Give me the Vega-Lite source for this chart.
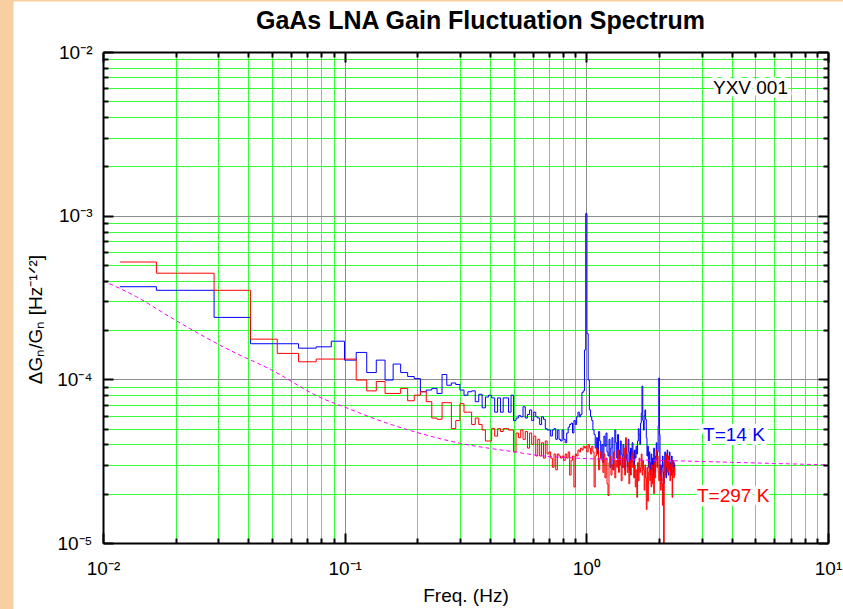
{
  "$schema": "https://vega.github.io/schema/vega-lite/v6.json",
  "width": 725,
  "height": 491,
  "autosize": {"type": "none"},
  "padding": {"left": 103, "top": 52, "right": 15, "bottom": 66},
  "background": "white",
  "title": {
    "text": "GaAs LNA Gain Fluctuation Spectrum",
    "font": "Liberation Sans",
    "fontSize": 25,
    "fontWeight": "bold",
    "color": "black",
    "anchor": "middle",
    "frame": "group",
    "dx": 15,
    "offset": -54,
    "baseline": "alphabetic"
  },
  "config": {
    "view": {"stroke": null},
    "font": "Liberation Sans",
    "axis": {
      "labelFont": "Liberation Sans",
      "labelFontSize": 19,
      "labelColor": "black",
      "titleFont": "Liberation Sans",
      "titleFontSize": 19,
      "titleFontWeight": "normal",
      "titleColor": "black",
      "tickColor": "black",
      "tickWidth": 2,
      "domainColor": "black",
      "domainWidth": 2,
      "labelFlush": false,
      "labelOverlap": false,
      "labelBound": false,
      "grid": false
    }
  },
  "datasets": {
    "spectra": [
      {"f": 0.01176, "t14": 3.68e-4, "t297": 5.21e-4},
      {"f": 0.02353, "t14": 3.50e-4, "t297": 4.45e-4},
      {"f": 0.03529, "t14": 2.39e-4, "t297": 3.50e-4},
      {"f": 0.04706, "t14": 1.65e-4, "t297": 1.76e-4},
      {"f": 0.05882, "t14": 1.65e-4, "t297": 1.44e-4},
      {"f": 0.07059, "t14": 1.55e-4, "t297": 1.28e-4},
      {"f": 0.08235, "t14": 1.58e-4, "t297": 1.33e-4},
      {"f": 0.09412, "t14": 1.71e-4, "t297": 1.33e-4},
      {"f": 0.10588, "t14": 1.31e-4, "t297": 1.33e-4},
      {"f": 0.11765, "t14": 1.46e-4, "t297": 9.9e-5},
      {"f": 0.12941, "t14": 1.10e-4, "t297": 8.5e-5},
      {"f": 0.14118, "t14": 1.31e-4, "t297": 9.7e-5},
      {"f": 0.15294, "t14": 9.9e-5, "t297": 8.2e-5},
      {"f": 0.16471, "t14": 1.24e-4, "t297": 8.2e-5},
      {"f": 0.17647, "t14": 1.10e-4, "t297": 8.8e-5},
      {"f": 0.18824, "t14": 1.04e-4, "t297": 7.4e-5},
      {"f": 0.2, "t14": 1.01e-4, "t297": 8.0e-5},
      {"f": 0.21176, "t14": 8.4e-5, "t297": 8.4e-5},
      {"f": 0.22353, "t14": 8.6e-5, "t297": 7.3e-5},
      {"f": 0.23529, "t14": 8.8e-5, "t297": 5.8e-5},
      {"f": 0.24706, "t14": 8.2e-5, "t297": 5.7e-5},
      {"f": 0.25882, "t14": 1.07e-4, "t297": 7.2e-5},
      {"f": 0.27059, "t14": 9.2e-5, "t297": 7.2e-5},
      {"f": 0.28235, "t14": 9.5e-5, "t297": 5.0e-5},
      {"f": 0.29412, "t14": 9.3e-5, "t297": 5.6e-5},
      {"f": 0.30588, "t14": 8.6e-5, "t297": 7.1e-5},
      {"f": 0.31765, "t14": 8.0e-5, "t297": 6.3e-5},
      {"f": 0.32941, "t14": 8.4e-5, "t297": 6.3e-5},
      {"f": 0.34118, "t14": 8.5e-5, "t297": 5.3e-5},
      {"f": 0.35294, "t14": 7.3e-5, "t297": 5.8e-5},
      {"f": 0.36471, "t14": 8.1e-5, "t297": 5.3e-5},
      {"f": 0.37647, "t14": 6.7e-5, "t297": 4.9e-5},
      {"f": 0.38824, "t14": 7.8e-5, "t297": 4.2e-5},
      {"f": 0.4, "t14": 8.0e-5, "t297": 4.2e-5},
      {"f": 0.41176, "t14": 7.7e-5, "t297": 5.0e-5},
      {"f": 0.42353, "t14": 6.3e-5, "t297": 4.5e-5},
      {"f": 0.43529, "t14": 7.7e-5, "t297": 5.0e-5},
      {"f": 0.44706, "t14": 6.3e-5, "t297": 4.8e-5},
      {"f": 0.45882, "t14": 7.7e-5, "t297": 5.0e-5},
      {"f": 0.47059, "t14": 7.7e-5, "t297": 5.0e-5},
      {"f": 0.48235, "t14": 6.3e-5, "t297": 4.9e-5},
      {"f": 0.49412, "t14": 8.0e-5, "t297": 4.9e-5},
      {"f": 0.50588, "t14": 5.6e-5, "t297": 3.6e-5},
      {"f": 0.51765, "t14": 5.8e-5, "t297": 4.7e-5},
      {"f": 0.52941, "t14": 6.0e-5, "t297": 4.4e-5},
      {"f": 0.54118, "t14": 5.9e-5, "t297": 4.9e-5},
      {"f": 0.55294, "t14": 6.8e-5, "t297": 4.3e-5},
      {"f": 0.56471, "t14": 5.8e-5, "t297": 4.8e-5},
      {"f": 0.57647, "t14": 6.1e-5, "t297": 3.8e-5},
      {"f": 0.58824, "t14": 6.5e-5, "t297": 4.7e-5},
      {"f": 0.6, "t14": 5.6e-5, "t297": 4.0e-5},
      {"f": 0.61176, "t14": 6.3e-5, "t297": 4.5e-5},
      {"f": 0.62353, "t14": 5.9e-5, "t297": 3.4e-5},
      {"f": 0.63529, "t14": 5.8e-5, "t297": 4.3e-5},
      {"f": 0.64706, "t14": 5.3e-5, "t297": 3.4e-5},
      {"f": 0.65882, "t14": 5.9e-5, "t297": 4.1e-5},
      {"f": 0.67059, "t14": 5.7e-5, "t297": 3.3e-5},
      {"f": 0.68235, "t14": 5.0e-5, "t297": 4.2e-5},
      {"f": 0.69412, "t14": 4.9e-5, "t297": 3.5e-5},
      {"f": 0.70588, "t14": 4.9e-5, "t297": 3.6e-5},
      {"f": 0.71765, "t14": 4.5e-5, "t297": 3.3e-5},
      {"f": 0.72941, "t14": 4.9e-5, "t297": 2.9e-5},
      {"f": 0.74118, "t14": 5.0e-5, "t297": 3.5e-5},
      {"f": 0.75294, "t14": 4.3e-5, "t297": 2.8e-5},
      {"f": 0.76471, "t14": 4.9e-5, "t297": 3.5e-5},
      {"f": 0.77647, "t14": 4.3e-5, "t297": 3.4e-5},
      {"f": 0.78824, "t14": 4.2e-5, "t297": 3.3e-5},
      {"f": 0.8, "t14": 4.9e-5, "t297": 3.4e-5},
      {"f": 0.81176, "t14": 4.3e-5, "t297": 3.2e-5},
      {"f": 0.82353, "t14": 4.1e-5, "t297": 3.5e-5},
      {"f": 0.83529, "t14": 4.7e-5, "t297": 3.3e-5},
      {"f": 0.84706, "t14": 5.1e-5, "t297": 3.6e-5},
      {"f": 0.85882, "t14": 5.3e-5, "t297": 2.6e-5},
      {"f": 0.87059, "t14": 5.4e-5, "t297": 3.2e-5},
      {"f": 0.88235, "t14": 4.7e-5, "t297": 3.4e-5},
      {"f": 0.89412, "t14": 5.6e-5, "t297": 2.2e-5},
      {"f": 0.90588, "t14": 5.3e-5, "t297": 3.5e-5},
      {"f": 0.91765, "t14": 5.9e-5, "t297": 3.4e-5},
      {"f": 0.92941, "t14": 6.3e-5, "t297": 3.7e-5},
      {"f": 0.94118, "t14": 5.9e-5, "t297": 3.6e-5},
      {"f": 0.95294, "t14": 6.1e-5, "t297": 3.8e-5},
      {"f": 0.96471, "t14": 8.3e-5, "t297": 3.7e-5},
      {"f": 0.97647, "t14": 8.5e-5, "t297": 3.9e-5},
      {"f": 0.98824, "t14": 1.51e-4, "t297": 3.8e-5},
      {"f": 1.0, "t14": 1.03e-3, "t297": 3.9e-5},
      {"f": 1.01176, "t14": 1.9e-4, "t297": 3.6e-5},
      {"f": 1.02353, "t14": 9.9e-5, "t297": 4.0e-5},
      {"f": 1.03529, "t14": 6.5e-5, "t297": 3.8e-5},
      {"f": 1.04706, "t14": 5.9e-5, "t297": 3.5e-5},
      {"f": 1.05882, "t14": 5.6e-5, "t297": 3.9e-5},
      {"f": 1.07059, "t14": 4.9e-5, "t297": 3.6e-5},
      {"f": 1.08235, "t14": 4.6e-5, "t297": 2.2e-5},
      {"f": 1.09412, "t14": 3.8e-5, "t297": 3.4e-5},
      {"f": 1.10588, "t14": 4.4e-5, "t297": 3.8e-5},
      {"f": 1.11765, "t14": 3.5e-5, "t297": 3.7e-5},
      {"f": 1.12941, "t14": 4.8e-5, "t297": 2.8e-5},
      {"f": 1.14118, "t14": 4.2e-5, "t297": 3.3e-5},
      {"f": 1.15294, "t14": 3.3e-5, "t297": 3.6e-5},
      {"f": 1.16471, "t14": 4.0e-5, "t297": 3.2e-5},
      {"f": 1.17647, "t14": 3.1e-5, "t297": 2.7e-5},
      {"f": 1.18824, "t14": 4.5e-5, "t297": 3.5e-5},
      {"f": 1.2, "t14": 3.9e-5, "t297": 2.5e-5},
      {"f": 1.21176, "t14": 4.7e-5, "t297": 3.3e-5},
      {"f": 1.22353, "t14": 3.6e-5, "t297": 2.3e-5},
      {"f": 1.23529, "t14": 3.4e-5, "t297": 1.95e-5},
      {"f": 1.24706, "t14": 4.3e-5, "t297": 3.1e-5},
      {"f": 1.25882, "t14": 2.9e-5, "t297": 3.4e-5},
      {"f": 1.27059, "t14": 3.8e-5, "t297": 2.6e-5},
      {"f": 1.28235, "t14": 4.4e-5, "t297": 3.0e-5},
      {"f": 1.29412, "t14": 2.8e-5, "t297": 2.8e-5},
      {"f": 1.30588, "t14": 3.6e-5, "t297": 3.6e-5},
      {"f": 1.31765, "t14": 4.9e-5, "t297": 2.5e-5},
      {"f": 1.32941, "t14": 4.1e-5, "t297": 3.2e-5},
      {"f": 1.34118, "t14": 3.3e-5, "t297": 2.9e-5},
      {"f": 1.35294, "t14": 4.6e-5, "t297": 3.7e-5},
      {"f": 1.36471, "t14": 3.7e-5, "t297": 2.7e-5},
      {"f": 1.37647, "t14": 3.0e-5, "t297": 3.4e-5},
      {"f": 1.38824, "t14": 4.2e-5, "t297": 3.0e-5},
      {"f": 1.4, "t14": 3.5e-5, "t297": 2.4e-5},
      {"f": 1.41176, "t14": 2.9e-5, "t297": 3.3e-5},
      {"f": 1.42353, "t14": 4.0e-5, "t297": 2.9e-5},
      {"f": 1.43529, "t14": 3.4e-5, "t297": 3.8e-5},
      {"f": 1.44706, "t14": 2.8e-5, "t297": 2.6e-5},
      {"f": 1.45882, "t14": 3.9e-5, "t297": 4.4e-5},
      {"f": 1.47059, "t14": 3.2e-5, "t297": 3.5e-5},
      {"f": 1.48235, "t14": 2.9e-5, "t297": 2.7e-5},
      {"f": 1.49412, "t14": 4.3e-5, "t297": 3.1e-5},
      {"f": 1.50588, "t14": 3.6e-5, "t297": 2.3e-5},
      {"f": 1.51765, "t14": 2.7e-5, "t297": 3.2e-5},
      {"f": 1.52941, "t14": 3.8e-5, "t297": 2.6e-5},
      {"f": 1.54118, "t14": 3.1e-5, "t297": 3.4e-5},
      {"f": 1.55294, "t14": 4.1e-5, "t297": 2.9e-5},
      {"f": 1.56471, "t14": 3.4e-5, "t297": 3.6e-5},
      {"f": 1.57647, "t14": 2.9e-5, "t297": 2.5e-5},
      {"f": 1.58824, "t14": 3.7e-5, "t297": 3.0e-5},
      {"f": 1.6, "t14": 3.3e-5, "t297": 2.2e-5},
      {"f": 1.61176, "t14": 3.9e-5, "t297": 2.8e-5},
      {"f": 1.62353, "t14": 3.5e-5, "t297": 1.9e-5},
      {"f": 1.63529, "t14": 4.2e-5, "t297": 3.1e-5},
      {"f": 1.64706, "t14": 5.0e-5, "t297": 2.4e-5},
      {"f": 1.65882, "t14": 4.6e-5, "t297": 3.3e-5},
      {"f": 1.67059, "t14": 4.0e-5, "t297": 2.7e-5},
      {"f": 1.68235, "t14": 5.4e-5, "t297": 2.9e-5},
      {"f": 1.69412, "t14": 6.2e-5, "t297": 3.5e-5},
      {"f": 1.70588, "t14": 9.1e-5, "t297": 2.6e-5},
      {"f": 1.71765, "t14": 5.6e-5, "t297": 3.2e-5},
      {"f": 1.72941, "t14": 4.9e-5, "t297": 2.8e-5},
      {"f": 1.74118, "t14": 6.0e-5, "t297": 2.1e-5},
      {"f": 1.75294, "t14": 6.5e-5, "t297": 3.0e-5},
      {"f": 1.76471, "t14": 5.7e-5, "t297": 2.5e-5},
      {"f": 1.77647, "t14": 4.4e-5, "t297": 1.6e-5},
      {"f": 1.78824, "t14": 3.4e-5, "t297": 2.9e-5},
      {"f": 1.8, "t14": 3.9e-5, "t297": 1.8e-5},
      {"f": 1.81176, "t14": 2.9e-5, "t297": 2.7e-5},
      {"f": 1.82353, "t14": 3.6e-5, "t297": 3.1e-5},
      {"f": 1.83529, "t14": 3.1e-5, "t297": 2.4e-5},
      {"f": 1.84706, "t14": 2.6e-5, "t297": 2.8e-5},
      {"f": 1.85882, "t14": 3.5e-5, "t297": 2.2e-5},
      {"f": 1.87059, "t14": 2.8e-5, "t297": 3.0e-5},
      {"f": 1.88235, "t14": 3.3e-5, "t297": 2.3e-5},
      {"f": 1.89412, "t14": 2.5e-5, "t297": 2.6e-5},
      {"f": 1.90588, "t14": 3.8e-5, "t297": 2.0e-5},
      {"f": 1.91765, "t14": 3.0e-5, "t297": 3.1e-5},
      {"f": 1.92941, "t14": 2.7e-5, "t297": 2.5e-5},
      {"f": 1.94118, "t14": 3.4e-5, "t297": 3.3e-5},
      {"f": 1.95294, "t14": 4.1e-5, "t297": 3.7e-5},
      {"f": 1.96471, "t14": 3.2e-5, "t297": 2.9e-5},
      {"f": 1.97647, "t14": 3.6e-5, "t297": 3.4e-5},
      {"f": 1.98824, "t14": 5.2e-5, "t297": 2.7e-5},
      {"f": 2.0, "t14": 1.02e-4, "t297": 2.4e-5},
      {"f": 2.01176, "t14": 4.6e-5, "t297": 3.0e-5},
      {"f": 2.02353, "t14": 2.6e-5, "t297": 2.6e-5},
      {"f": 2.03529, "t14": 3.0e-5, "t297": 2.1e-5},
      {"f": 2.04706, "t14": 2.4e-5, "t297": 2.8e-5},
      {"f": 2.05882, "t14": 2.9e-5, "t297": 2.3e-5},
      {"f": 2.07059, "t14": 3.4e-5, "t297": 1.7e-5},
      {"f": 2.08235, "t14": 2.7e-5, "t297": 2.5e-5},
      {"f": 2.09412, "t14": 2.3e-5, "t297": 6.0e-6},
      {"f": 2.10588, "t14": 3.1e-5, "t297": 2.7e-5},
      {"f": 2.11765, "t14": 3.6e-5, "t297": 3.2e-5},
      {"f": 2.12941, "t14": 2.8e-5, "t297": 2.6e-5},
      {"f": 2.14118, "t14": 2.5e-5, "t297": 3.5e-5},
      {"f": 2.15294, "t14": 3.3e-5, "t297": 2.9e-5},
      {"f": 2.16471, "t14": 3.7e-5, "t297": 3.3e-5},
      {"f": 2.17647, "t14": 2.9e-5, "t297": 2.7e-5},
      {"f": 2.18824, "t14": 2.6e-5, "t297": 3.4e-5},
      {"f": 2.2, "t14": 3.2e-5, "t297": 2.8e-5},
      {"f": 2.21176, "t14": 3.6e-5, "t297": 3.1e-5},
      {"f": 2.22353, "t14": 2.8e-5, "t297": 2.4e-5},
      {"f": 2.23529, "t14": 3.1e-5, "t297": 3.0e-5},
      {"f": 2.24706, "t14": 2.6e-5, "t297": 2.6e-5},
      {"f": 2.25882, "t14": 3.4e-5, "t297": 3.2e-5},
      {"f": 2.27059, "t14": 2.9e-5, "t297": 1.9e-5},
      {"f": 2.28235, "t14": 3.2e-5, "t297": 2.8e-5},
      {"f": 2.29412, "t14": 2.7e-5, "t297": 3.1e-5},
      {"f": 2.30588, "t14": 3.1e-5, "t297": 2.5e-5},
      {"f": 2.31765, "t14": 2.9e-5, "t297": 2.9e-5},
      {"f": 2.32941, "t14": 3.0e-5, "t297": 2.6e-5}
    ],
    "trend": [
      {"f": 0.01, "fit": 4.0e-4},
      {"f": 0.01373, "fit": 3.2e-4},
      {"f": 0.01888, "fit": 2.41e-4},
      {"f": 0.02594, "fit": 1.84e-4},
      {"f": 0.0356, "fit": 1.44e-4},
      {"f": 0.0482, "fit": 1.17e-4},
      {"f": 0.0816, "fit": 7.6e-5},
      {"f": 0.1003, "fit": 6.75e-5},
      {"f": 0.14, "fit": 5.59e-5},
      {"f": 0.205, "fit": 4.68e-5},
      {"f": 0.3, "fit": 4.07e-5},
      {"f": 0.499, "fit": 3.61e-5},
      {"f": 0.643, "fit": 3.42e-5},
      {"f": 0.883, "fit": 3.31e-5},
      {"f": 2.33, "fit": 3.18e-5},
      {"f": 10, "fit": 3.0e-5}
    ],
    "notes": [
      {"f": 3.343, "g": 0.00603, "label": "YXV 001"},
      {"f": 3.04, "g": 0.0000457, "label": "T=14 K"},
      {"f": 2.87, "g": 0.0000195, "label": "T=297 K"}
    ]
  },
  "layer": [
    {
      "description": "peach margin strip down the left edge of the page",
      "data": {"values": [{}]},
      "mark": {"type": "rect", "color": "#F8CFA1", "clip": false},
      "encoding": {
        "x": {"datum": 0.003, "type": "quantitative", "scale": {"type": "log", "domain": [0.01, 10], "nice": false}, "axis": null},
        "x2": {"datum": 0.004263},
        "y": {"datum": 0.020785, "type": "quantitative", "scale": {"type": "log", "domain": [0.00001, 0.01], "nice": false}, "axis": null},
        "y2": {"datum": 0.000003}
      }
    },
    {
      "description": "thin peach band along the top edge",
      "data": {"values": [{}]},
      "mark": {"type": "rect", "color": "#F8CFA1", "clip": false},
      "encoding": {
        "x": {"datum": 0.003, "type": "quantitative", "scale": {"type": "log", "domain": [0.01, 10], "nice": false}, "axis": null},
        "x2": {"datum": 20},
        "y": {"datum": 0.020785, "type": "quantitative", "scale": {"type": "log", "domain": [0.00001, 0.01], "nice": false}, "axis": null},
        "y2": {"datum": 0.02035}
      }
    },
    {
      "description": "T=14 K spectrum, with the labelled bottom and left axes",
      "data": {"name": "spectra"},
      "mark": {"type": "line", "interpolate": "step", "color": "#0000FF", "strokeWidth": 1, "clip": true},
      "encoding": {
        "x": {
          "field": "f", "type": "quantitative",
          "scale": {"type": "log", "domain": [0.01, 10], "nice": false},
          "axis": {
            "orient": "bottom",
            "values": [0.01, 0.1, 1, 10],
            "tickSize": -10,
            "labelExpr": "datum.value == 0.01 ? '10⁻²' : datum.value == 0.1 ? '10⁻¹' : datum.value == 1 ? '10⁰' : '10¹'",
            "labelPadding": 41,
            "labelBaseline": "alphabetic",
            "labelAlign": "center",
            "title": "Freq. (Hz)",
            "titleX": 362.5,
            "titleY": 58,
            "titleBaseline": "alphabetic",
            "titleAlign": "center",
            "zindex": 1
          }
        },
        "y": {
          "field": "t14", "type": "quantitative",
          "scale": {"type": "log", "domain": [0.00001, 0.01], "nice": false},
          "axis": {
            "orient": "left",
            "values": [0.00001, 0.0001, 0.001, 0.01],
            "tickSize": -10,
            "labelExpr": "datum.value == 0.01 ? '10⁻²' : datum.value == 0.001 ? '10⁻³' : datum.value == 0.0001 ? '10⁻⁴' : '10⁻⁵'",
            "labelPadding": 21,
            "labelAlign": "right",
            "labelBaseline": "middle",
            "title": "ΔGₙ/Gₙ [Hz⁻¹ᐟ²]",
            "titleX": -61.5,
            "titleY": 267,
            "titleAngle": -90,
            "titleBaseline": "alphabetic",
            "titleAlign": "center",
            "zindex": 1
          }
        }
      }
    },
    {
      "description": "T=297 K spectrum, with the top and right frame axes",
      "data": {"name": "spectra"},
      "mark": {"type": "line", "interpolate": "step", "color": "#FF0000", "strokeWidth": 1, "clip": true},
      "encoding": {
        "x": {
          "field": "f", "type": "quantitative",
          "scale": {"type": "log", "domain": [0.01, 10], "nice": false},
          "axis": {"orient": "top", "values": [0.01, 0.1, 1, 10], "tickSize": -10, "labels": false, "title": null, "zindex": 1}
        },
        "y": {
          "field": "t297", "type": "quantitative",
          "scale": {"type": "log", "domain": [0.00001, 0.01], "nice": false},
          "axis": {"orient": "right", "values": [0.00001, 0.0001, 0.001, 0.01], "tickSize": -10, "labels": false, "title": null, "zindex": 1}
        }
      }
    },
    {
      "description": "dashed reference curve; carries the green/grey grid",
      "data": {"name": "trend"},
      "mark": {"type": "line", "interpolate": "monotone", "color": "#FF00FF", "strokeWidth": 1, "strokeDash": [4, 3], "clip": true},
      "encoding": {
        "x": {
          "field": "f", "type": "quantitative",
          "scale": {"type": "log", "domain": [0.01, 10], "nice": false},
          "axis": {
            "orient": "bottom",
            "values": [0.01, 0.02, 0.03, 0.04, 0.05, 0.06, 0.07, 0.08, 0.09, 0.1, 0.2, 0.3, 0.4, 0.5, 0.6, 0.7, 0.8, 0.9, 1, 2, 3, 4, 5, 6, 7, 8, 9, 10],
            "grid": true,
            "gridColor": {"condition": {"test": "indexof([0.01, 0.1, 1, 10], datum.value) >= 0", "value": "#8c8c8c"}, "value": "#33ff33"},
            "gridWidth": 1,
            "ticks": false, "labels": false, "domain": false, "title": null, "zindex": 0
          }
        },
        "y": {
          "field": "fit", "type": "quantitative",
          "scale": {"type": "log", "domain": [0.00001, 0.01], "nice": false},
          "axis": {
            "orient": "left",
            "values": [0.00001, 0.00002, 0.00003, 0.00004, 0.00005, 0.00006, 0.00007, 0.00008, 0.00009, 0.0001, 0.0002, 0.0003, 0.0004, 0.0005, 0.0006, 0.0007, 0.0008, 0.0009, 0.001, 0.002, 0.003, 0.004, 0.005, 0.006, 0.007, 0.008, 0.009, 0.01],
            "grid": true,
            "gridColor": {"condition": {"test": "indexof([0.00001, 0.0001, 0.001, 0.01], datum.value) >= 0", "value": "#8c8c8c"}, "value": "#33ff33"},
            "gridWidth": 1,
            "ticks": false, "labels": false, "domain": false, "title": null, "zindex": 0
          }
        }
      }
    },
    {
      "description": "white halo behind the annotations; carries the bottom/left minor ticks",
      "data": {"name": "notes"},
      "mark": {"type": "text", "align": "left", "baseline": "middle", "font": "Liberation Sans", "fontSize": 19, "fill": "white", "stroke": "white", "strokeWidth": 8, "strokeJoin": "round"},
      "encoding": {
        "x": {
          "field": "f", "type": "quantitative",
          "scale": {"type": "log", "domain": [0.01, 10], "nice": false},
          "axis": {"orient": "bottom", "values": [0.02, 0.03, 0.04, 0.05, 0.06, 0.07, 0.08, 0.09, 0.2, 0.3, 0.4, 0.5, 0.6, 0.7, 0.8, 0.9, 2, 3, 4, 5, 6, 7, 8, 9], "tickSize": -5, "labels": false, "domain": false, "title": null, "zindex": 1}
        },
        "y": {
          "field": "g", "type": "quantitative",
          "scale": {"type": "log", "domain": [0.00001, 0.01], "nice": false},
          "axis": {"orient": "left", "values": [0.00002, 0.00003, 0.00004, 0.00005, 0.00006, 0.00007, 0.00008, 0.00009, 0.0002, 0.0003, 0.0004, 0.0005, 0.0006, 0.0007, 0.0008, 0.0009, 0.002, 0.003, 0.004, 0.005, 0.006, 0.007, 0.008, 0.009], "tickSize": -5, "labels": false, "domain": false, "title": null, "zindex": 1}
        },
        "text": {"field": "label"}
      }
    },
    {
      "description": "annotation text; carries the top/right minor ticks",
      "data": {"name": "notes"},
      "mark": {"type": "text", "align": "left", "baseline": "middle", "font": "Liberation Sans", "fontSize": 19},
      "encoding": {
        "x": {
          "field": "f", "type": "quantitative",
          "scale": {"type": "log", "domain": [0.01, 10], "nice": false},
          "axis": {"orient": "top", "values": [0.02, 0.03, 0.04, 0.05, 0.06, 0.07, 0.08, 0.09, 0.2, 0.3, 0.4, 0.5, 0.6, 0.7, 0.8, 0.9, 2, 3, 4, 5, 6, 7, 8, 9], "tickSize": -5, "labels": false, "domain": false, "title": null, "zindex": 1}
        },
        "y": {
          "field": "g", "type": "quantitative",
          "scale": {"type": "log", "domain": [0.00001, 0.01], "nice": false},
          "axis": {"orient": "right", "values": [0.00002, 0.00003, 0.00004, 0.00005, 0.00006, 0.00007, 0.00008, 0.00009, 0.0002, 0.0003, 0.0004, 0.0005, 0.0006, 0.0007, 0.0008, 0.0009, 0.002, 0.003, 0.004, 0.005, 0.006, 0.007, 0.008, 0.009], "tickSize": -5, "labels": false, "domain": false, "title": null, "zindex": 1}
        },
        "text": {"field": "label"},
        "color": {
          "field": "label", "type": "nominal",
          "scale": {"domain": ["YXV 001", "T=14 K", "T=297 K"], "range": ["#000000", "#0000FF", "#FF0000"]},
          "legend": null
        }
      }
    }
  ],
  "resolve": {"axis": {"x": "independent", "y": "independent"}}
}
